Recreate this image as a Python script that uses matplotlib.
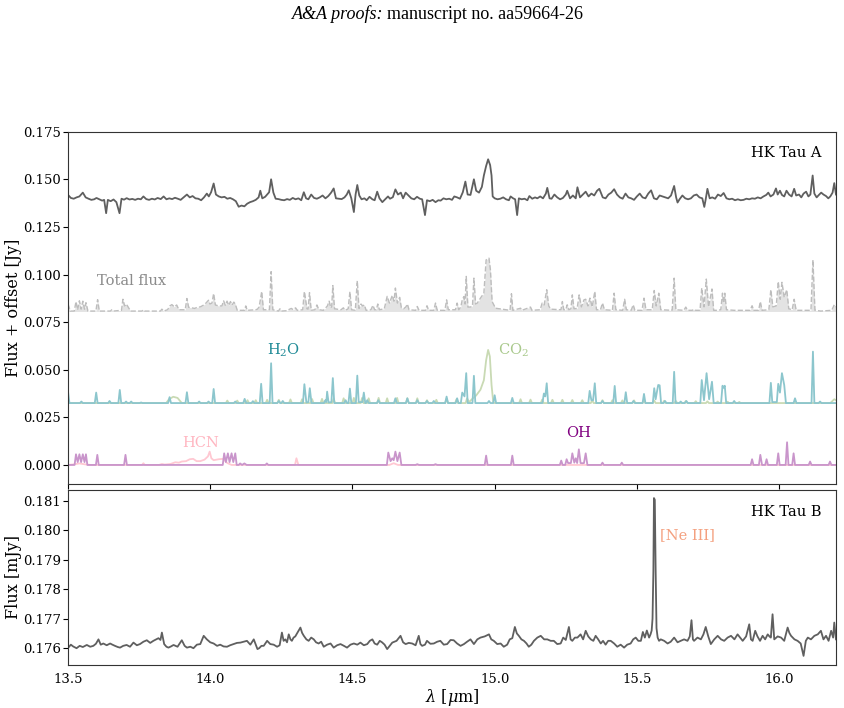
import matplotlib
matplotlib.use("Agg")
import matplotlib.pyplot as plt

# HK Tau A observed spectrum (offset, Jy)
hka_wave = [
    13.500, 13.510, 13.520, 13.530, 13.540, 13.552, 13.562, 13.572, 13.582, 13.592,
    13.600, 13.610, 13.620, 13.627, 13.634, 13.640, 13.650, 13.660, 13.670, 13.681,
    13.688, 13.697, 13.706, 13.716, 13.726, 13.736, 13.746, 13.756, 13.765, 13.775,
    13.785, 13.795, 13.805, 13.815, 13.826, 13.836, 13.846, 13.856, 13.866, 13.876,
    13.886, 13.896, 13.906, 13.918, 13.928, 13.938, 13.948, 13.958, 13.968, 13.978,
    13.988, 13.995, 14.003, 14.012, 14.020, 14.030, 14.040, 14.050, 14.060, 14.070,
    14.080, 14.090, 14.100, 14.110, 14.120, 14.130, 14.140, 14.150, 14.160, 14.170,
    14.176, 14.183, 14.193, 14.200, 14.207, 14.214, 14.222, 14.230, 14.240, 14.250,
    14.260, 14.270, 14.280, 14.290, 14.300, 14.310, 14.320, 14.329, 14.337, 14.345,
    14.355, 14.365, 14.375, 14.385, 14.395, 14.405, 14.415, 14.425, 14.434, 14.442,
    14.452, 14.462, 14.472, 14.480, 14.487, 14.496, 14.505, 14.511, 14.517, 14.524,
    14.532, 14.542, 14.550, 14.560, 14.570, 14.578, 14.587, 14.595, 14.605, 14.615,
    14.625, 14.632, 14.642, 14.651, 14.660, 14.670, 14.678, 14.687, 14.697, 14.707,
    14.717, 14.727, 14.737, 14.745, 14.755, 14.762, 14.772, 14.782, 14.792, 14.802,
    14.810, 14.820, 14.830, 14.840, 14.850, 14.858, 14.868, 14.878, 14.888, 14.897,
    14.905, 14.915, 14.927, 14.935, 14.945, 14.955, 14.962, 14.970, 14.977, 14.984,
    14.989, 14.993, 15.000, 15.010, 15.020, 15.030, 15.040, 15.050, 15.056, 15.065,
    15.072, 15.079, 15.085, 15.095, 15.105, 15.115, 15.122, 15.132, 15.142, 15.150,
    15.160, 15.170, 15.180, 15.185, 15.193, 15.200, 15.210, 15.220, 15.230, 15.240,
    15.250, 15.255, 15.265, 15.275, 15.285, 15.291, 15.300, 15.310, 15.320, 15.330,
    15.340, 15.350, 15.360, 15.368, 15.380, 15.390, 15.400, 15.410, 15.420, 15.430,
    15.440, 15.450, 15.460, 15.470, 15.480, 15.490, 15.500, 15.510, 15.520, 15.530,
    15.540, 15.550, 15.560, 15.570, 15.580, 15.590, 15.600, 15.610, 15.620, 15.631,
    15.638, 15.643, 15.650, 15.660, 15.670, 15.680, 15.690, 15.700, 15.710, 15.720,
    15.730, 15.737, 15.742, 15.748, 15.756, 15.765, 15.775, 15.785, 15.795, 15.805,
    15.815, 15.825, 15.835, 15.845, 15.855, 15.865, 15.875, 15.885, 15.895, 15.905,
    15.915, 15.925, 15.935, 15.945, 15.955, 15.962, 15.970, 15.980, 15.989, 15.995,
    16.003, 16.010, 16.018, 16.026, 16.035, 16.044, 16.053, 16.060, 16.070, 16.078,
    16.086, 16.095, 16.103, 16.110, 16.118, 16.124, 16.132, 16.140, 16.148, 16.156,
    16.165, 16.173, 16.180, 16.188, 16.194, 16.200,
]
hka_flux = [
    0.1418, 0.1402, 0.1398, 0.1405, 0.1410, 0.1430, 0.1405, 0.1398, 0.1392, 0.1395,
    0.1402, 0.1395, 0.1388, 0.1392, 0.1322, 0.1392, 0.1385, 0.1394, 0.1380, 0.1322,
    0.1398, 0.1393, 0.1401, 0.1394, 0.1397, 0.1392, 0.1398, 0.1395, 0.1410, 0.1396,
    0.1392, 0.1398, 0.1394, 0.1402, 0.1396, 0.1410, 0.1395, 0.1400, 0.1396, 0.1403,
    0.1398, 0.1392, 0.1405, 0.1420, 0.1405, 0.1412, 0.1400, 0.1398, 0.1390, 0.1405,
    0.1425, 0.1410, 0.1432, 0.1478, 0.1420, 0.1410, 0.1405, 0.1408, 0.1398, 0.1402,
    0.1395, 0.1385, 0.1356, 0.1362, 0.1358, 0.1372, 0.1380, 0.1385, 0.1392, 0.1405,
    0.1440, 0.1400, 0.1408, 0.1420, 0.1432, 0.1500, 0.1430, 0.1398, 0.1396, 0.1392,
    0.1390, 0.1396, 0.1392, 0.1402, 0.1395, 0.1400, 0.1390, 0.1432, 0.1400, 0.1395,
    0.1420, 0.1402, 0.1398, 0.1405, 0.1415, 0.1400, 0.1412, 0.1430, 0.1452, 0.1400,
    0.1398, 0.1396, 0.1405, 0.1420, 0.1442, 0.1400, 0.1328, 0.1420, 0.1470, 0.1415,
    0.1395, 0.1400, 0.1390, 0.1408, 0.1395, 0.1390, 0.1435, 0.1400, 0.1380, 0.1395,
    0.1410, 0.1398, 0.1406, 0.1447, 0.1420, 0.1430, 0.1400, 0.1430, 0.1415, 0.1400,
    0.1395, 0.1408, 0.1398, 0.1395, 0.1312, 0.1390, 0.1385, 0.1392, 0.1380, 0.1390,
    0.1388, 0.1400, 0.1395, 0.1398, 0.1392, 0.1410, 0.1405, 0.1398, 0.1432, 0.1488,
    0.1420, 0.1418, 0.1500, 0.1440, 0.1430, 0.1460, 0.1520, 0.1570, 0.1605, 0.1575,
    0.1520, 0.1410, 0.1400, 0.1395, 0.1398, 0.1405, 0.1395, 0.1390, 0.1410, 0.1400,
    0.1395, 0.1312, 0.1400, 0.1395, 0.1398, 0.1390, 0.1412, 0.1398, 0.1405, 0.1400,
    0.1410, 0.1400, 0.1425, 0.1455, 0.1400, 0.1398, 0.1420, 0.1405, 0.1395, 0.1402,
    0.1420, 0.1440, 0.1400, 0.1415, 0.1400, 0.1458, 0.1405, 0.1420, 0.1435, 0.1410,
    0.1425, 0.1415, 0.1440, 0.1450, 0.1405, 0.1400, 0.1420, 0.1430, 0.1448, 0.1420,
    0.1405, 0.1398, 0.1425, 0.1405, 0.1400, 0.1392, 0.1410, 0.1425, 0.1405, 0.1400,
    0.1425, 0.1442, 0.1400, 0.1395, 0.1415, 0.1410, 0.1405, 0.1400, 0.1415, 0.1465,
    0.1405, 0.1378, 0.1395, 0.1415, 0.1400, 0.1395, 0.1400, 0.1415, 0.1420, 0.1405,
    0.1400, 0.1355, 0.1395, 0.1450, 0.1400, 0.1405, 0.1398, 0.1420, 0.1412, 0.1428,
    0.1400, 0.1395, 0.1398, 0.1390, 0.1395, 0.1390, 0.1392, 0.1398, 0.1395, 0.1400,
    0.1398, 0.1405, 0.1400, 0.1410, 0.1418, 0.1430, 0.1410, 0.1420, 0.1452, 0.1420,
    0.1440, 0.1418, 0.1410, 0.1440, 0.1420, 0.1410, 0.1450, 0.1415, 0.1420, 0.1405,
    0.1425, 0.1435, 0.1410, 0.1420, 0.1520, 0.1425, 0.1405, 0.1418, 0.1430, 0.1420,
    0.1412, 0.1400, 0.1410, 0.1430, 0.1480, 0.1420,
]

# total model flux (offset)
tot_wave = [
    13.500, 13.508, 13.522, 13.528, 13.534, 13.540, 13.546, 13.552, 13.558, 13.563,
    13.570, 13.598, 13.604, 13.610, 13.649, 13.654, 13.659, 13.688, 13.693, 13.699,
    13.705, 13.713, 13.720, 13.760, 13.765, 13.770, 13.825, 13.830, 13.836, 13.850,
    13.858, 13.865, 13.874, 13.882, 13.890, 13.912, 13.918, 13.924, 13.935, 13.945,
    13.955, 13.965, 13.975, 13.985, 13.994, 13.999, 14.006, 14.012, 14.018, 14.030,
    14.041, 14.047, 14.053, 14.059, 14.065, 14.071, 14.077, 14.083, 14.088, 14.095,
    14.120, 14.125, 14.130, 14.160, 14.166, 14.172, 14.181, 14.187, 14.208, 14.214,
    14.220, 14.240, 14.245, 14.250, 14.270, 14.275, 14.285, 14.292, 14.300, 14.306,
    14.325, 14.331, 14.340, 14.344, 14.349, 14.355, 14.368, 14.375, 14.382, 14.398,
    14.412, 14.418, 14.424, 14.427, 14.431, 14.437, 14.460, 14.468, 14.475, 14.485,
    14.491, 14.497, 14.510, 14.517, 14.523, 14.530, 14.536, 14.542, 14.548, 14.565,
    14.572, 14.578, 14.584, 14.589, 14.595, 14.612, 14.622, 14.630, 14.640, 14.646,
    14.651, 14.658, 14.666, 14.672, 14.680, 14.688, 14.693, 14.699, 14.722, 14.728,
    14.734, 14.757, 14.762, 14.768, 14.786, 14.792, 14.798, 14.825, 14.831, 14.837,
    14.862, 14.868, 14.874, 14.881, 14.886, 14.892, 14.896, 14.900, 14.906, 14.915,
    14.922, 14.927, 14.933, 14.939, 14.950, 14.962, 14.970, 14.980, 14.985, 14.991,
    15.003, 15.054, 15.059, 15.064, 15.091, 15.096, 15.126, 15.131, 15.160, 15.167,
    15.174, 15.183, 15.190, 15.197, 15.233, 15.238, 15.243, 15.250, 15.255, 15.261,
    15.268, 15.273, 15.279, 15.290, 15.297, 15.305, 15.314, 15.320, 15.328, 15.335,
    15.343, 15.352, 15.358, 15.372, 15.379, 15.386, 15.414, 15.420, 15.426, 15.450,
    15.457, 15.463, 15.480, 15.487, 15.493, 15.518, 15.525, 15.532, 15.554, 15.561,
    15.568, 15.577, 15.584, 15.624, 15.631, 15.637, 15.665, 15.672, 15.678, 15.695,
    15.701, 15.707, 15.722, 15.728, 15.736, 15.744, 15.752, 15.764, 15.770, 15.784,
    15.795, 15.801, 15.805, 15.809, 15.815, 15.842, 15.898, 15.905, 15.911, 15.928,
    15.934, 15.940, 15.964, 15.971, 15.978, 15.990, 15.997, 16.004, 16.010, 16.018,
    16.027, 16.034, 16.046, 16.053, 16.060, 16.112, 16.119, 16.126, 16.147, 16.185,
    16.194, 16.200,
]
tot_flux = [
    0.0845, 0.0808, 0.0808, 0.0858, 0.0815, 0.0862, 0.0818, 0.0860, 0.0818, 0.0852,
    0.0808, 0.0808, 0.0868, 0.0808, 0.0808, 0.0815, 0.0808, 0.0812, 0.0870, 0.0835,
    0.0845, 0.0825, 0.0808, 0.0808, 0.0815, 0.0808, 0.0808, 0.0818, 0.0808, 0.0815,
    0.0835, 0.0842, 0.0830, 0.0840, 0.0815, 0.0815, 0.0874, 0.0828, 0.0825, 0.0822,
    0.0828, 0.0830, 0.0838, 0.0850, 0.0865, 0.0845, 0.0850, 0.0900, 0.0840, 0.0835,
    0.0835, 0.0862, 0.0838, 0.0860, 0.0838, 0.0858, 0.0840, 0.0855, 0.0845, 0.0812,
    0.0812, 0.0835, 0.0812, 0.0815, 0.0818, 0.0830, 0.0911, 0.0815, 0.0815, 0.1015,
    0.0815, 0.0808, 0.0820, 0.0808, 0.0810, 0.0815, 0.0822, 0.0815, 0.0825, 0.0812,
    0.0815, 0.0911, 0.0820, 0.0818, 0.0905, 0.0812, 0.0815, 0.0840, 0.0815, 0.0812,
    0.0835, 0.0860, 0.0825, 0.0830, 0.0942, 0.0820, 0.0815, 0.0825, 0.0812, 0.0820,
    0.0910, 0.0815, 0.0812, 0.0967, 0.0822, 0.0845, 0.0835, 0.0840, 0.0812, 0.0815,
    0.0838, 0.0815, 0.0815, 0.0845, 0.0815, 0.0820, 0.0885, 0.0850, 0.0890, 0.0860,
    0.0929, 0.0850, 0.0880, 0.0825, 0.0820, 0.0830, 0.0845, 0.0815, 0.0812, 0.0832,
    0.0812, 0.0812, 0.0836, 0.0812, 0.0812, 0.0850, 0.0812, 0.0812, 0.0867, 0.0815,
    0.0815, 0.0850, 0.0815, 0.0830, 0.0867, 0.0884, 0.0845, 0.0990, 0.0829, 0.0829,
    0.0835, 0.0981, 0.0845, 0.0850, 0.0876, 0.0902, 0.1077, 0.1086, 0.1025, 0.0858,
    0.0823, 0.0812, 0.0899, 0.0812, 0.0823, 0.0812, 0.0829, 0.0812, 0.0815, 0.0850,
    0.0840, 0.0920, 0.0835, 0.0818, 0.0815, 0.0858, 0.0815, 0.0815, 0.0841, 0.0815,
    0.0820, 0.0893, 0.0820, 0.0822, 0.0893, 0.0830, 0.0867, 0.0870, 0.0835, 0.0876,
    0.0830, 0.0911, 0.0815, 0.0815, 0.0850, 0.0815, 0.0812, 0.0902, 0.0815, 0.0812,
    0.0870, 0.0815, 0.0812, 0.0841, 0.0812, 0.0812, 0.0876, 0.0815, 0.0815, 0.0916,
    0.0835, 0.0902, 0.0815, 0.0812, 0.0981, 0.0815, 0.0812, 0.0829, 0.0812, 0.0812,
    0.0818, 0.0812, 0.0812, 0.0929, 0.0830, 0.0976, 0.0830, 0.0924, 0.0812, 0.0812,
    0.0815, 0.0902, 0.0850, 0.0902, 0.0815, 0.0812, 0.0812, 0.0836, 0.0812, 0.0812,
    0.0858, 0.0812, 0.0815, 0.0920, 0.0830, 0.0835, 0.0963, 0.0870, 0.0959, 0.0880,
    0.0920, 0.0820, 0.0815, 0.0870, 0.0812, 0.0812, 0.1077, 0.0812, 0.0808, 0.0812,
    0.0841, 0.0830,
]

# H2O model (offset)
h2o_wave = [
    13.500, 13.505, 13.542, 13.547, 13.552, 13.594, 13.599, 13.604, 13.641, 13.646,
    13.651, 13.677, 13.682, 13.687, 13.699, 13.704, 13.709, 13.717, 13.722, 13.727,
    13.752, 13.757, 13.762, 13.852, 13.857, 13.862, 13.913, 13.918, 13.923, 13.956,
    13.961, 13.966, 13.989, 13.994, 13.999, 14.007, 14.012, 14.017, 14.083, 14.088,
    14.093, 14.116, 14.121, 14.126, 14.145, 14.150, 14.155, 14.174, 14.179, 14.184,
    14.209, 14.214, 14.219, 14.236, 14.241, 14.246, 14.250, 14.255, 14.260, 14.326,
    14.331, 14.338, 14.345, 14.350, 14.356, 14.400, 14.405, 14.408, 14.411, 14.416,
    14.426, 14.431, 14.436, 14.471, 14.476, 14.481, 14.486, 14.491, 14.496, 14.512,
    14.517, 14.522, 14.535, 14.540, 14.545, 14.547, 14.552, 14.557, 14.586, 14.591,
    14.596, 14.646, 14.651, 14.656, 14.688, 14.693, 14.698, 14.723, 14.728, 14.733,
    14.757, 14.762, 14.767, 14.781, 14.786, 14.791, 14.826, 14.831, 14.836, 14.863,
    14.868, 14.873, 14.881, 14.886, 14.890, 14.894, 14.900, 14.905, 14.922, 14.927,
    14.932, 14.975, 14.980, 14.985, 14.995, 15.000, 15.005, 15.057, 15.062, 15.067,
    15.168, 15.173, 15.178, 15.183, 15.188, 15.329, 15.334, 15.340, 15.346, 15.352,
    15.357, 15.374, 15.379, 15.384, 15.417, 15.422, 15.427, 15.456, 15.461, 15.466,
    15.483, 15.488, 15.493, 15.520, 15.525, 15.530, 15.556, 15.561, 15.566, 15.570,
    15.575, 15.580, 15.585, 15.594, 15.599, 15.604, 15.626, 15.631, 15.636, 15.649,
    15.654, 15.659, 15.669, 15.674, 15.679, 15.723, 15.728, 15.736, 15.745, 15.754,
    15.764, 15.770, 15.796, 15.801, 15.805, 15.809, 15.814, 15.837, 15.842, 15.847,
    15.966, 15.971, 15.976, 15.992, 15.997, 16.003, 16.010, 16.018, 16.024, 16.051,
    16.056, 16.061, 16.114, 16.119, 16.124, 16.139, 16.144, 16.149, 16.200,
]
h2o_flux = [
    0.0385, 0.0325, 0.0325, 0.0333, 0.0325, 0.0325, 0.0380, 0.0325, 0.0325, 0.0336,
    0.0325, 0.0325, 0.0394, 0.0325, 0.0325, 0.0333, 0.0325, 0.0325, 0.0333, 0.0325,
    0.0325, 0.0328, 0.0325, 0.0325, 0.0356, 0.0325, 0.0325, 0.0382, 0.0325, 0.0325,
    0.0333, 0.0325, 0.0325, 0.0333, 0.0325, 0.0325, 0.0399, 0.0325, 0.0325, 0.0333,
    0.0325, 0.0325, 0.0347, 0.0325, 0.0325, 0.0335, 0.0325, 0.0325, 0.0426, 0.0325,
    0.0325, 0.0534, 0.0325, 0.0325, 0.0336, 0.0325, 0.0325, 0.0336, 0.0325, 0.0325,
    0.0424, 0.0328, 0.0330, 0.0403, 0.0325, 0.0325, 0.0340, 0.0330, 0.0385, 0.0328,
    0.0330, 0.0456, 0.0325, 0.0325, 0.0340, 0.0325, 0.0325, 0.0401, 0.0325, 0.0325,
    0.0469, 0.0330, 0.0330, 0.0380, 0.0325, 0.0325, 0.0340, 0.0325, 0.0325, 0.0340,
    0.0325, 0.0325, 0.0350, 0.0325, 0.0325, 0.0350, 0.0325, 0.0325, 0.0340, 0.0325,
    0.0325, 0.0336, 0.0325, 0.0325, 0.0336, 0.0325, 0.0325, 0.0359, 0.0325, 0.0325,
    0.0350, 0.0325, 0.0325, 0.0380, 0.0370, 0.0360, 0.0482, 0.0325, 0.0325, 0.0468,
    0.0325, 0.0325, 0.0336, 0.0325, 0.0325, 0.0366, 0.0325, 0.0325, 0.0352, 0.0325,
    0.0325, 0.0375, 0.0360, 0.0429, 0.0325, 0.0325, 0.0389, 0.0340, 0.0340, 0.0429,
    0.0325, 0.0325, 0.0336, 0.0325, 0.0325, 0.0415, 0.0325, 0.0325, 0.0382, 0.0325,
    0.0325, 0.0336, 0.0325, 0.0325, 0.0373, 0.0325, 0.0325, 0.0403, 0.0345, 0.0380,
    0.0420, 0.0418, 0.0325, 0.0325, 0.0336, 0.0325, 0.0325, 0.0489, 0.0325, 0.0325,
    0.0333, 0.0325, 0.0325, 0.0336, 0.0325, 0.0325, 0.0446, 0.0340, 0.0482, 0.0345,
    0.0437, 0.0325, 0.0325, 0.0416, 0.0405, 0.0416, 0.0325, 0.0325, 0.0336, 0.0325,
    0.0325, 0.0431, 0.0330, 0.0330, 0.0426, 0.0380, 0.0482, 0.0420, 0.0325, 0.0325,
    0.0350, 0.0325, 0.0325, 0.0595, 0.0325, 0.0325, 0.0333, 0.0325, 0.0325,
]

# CO2 model (offset)
co2_wave = [
    13.500, 13.845, 13.855, 13.870, 13.885, 13.900, 14.055, 14.060, 14.065, 14.090,
    14.095, 14.100, 14.126, 14.131, 14.136, 14.155, 14.160, 14.165, 14.195, 14.200,
    14.205, 14.236, 14.241, 14.246, 14.277, 14.282, 14.287, 14.318, 14.323, 14.328,
    14.353, 14.358, 14.363, 14.388, 14.393, 14.398, 14.429, 14.434, 14.439, 14.464,
    14.469, 14.474, 14.500, 14.505, 14.510, 14.529, 14.534, 14.539, 14.552, 14.557,
    14.562, 14.587, 14.592, 14.597, 14.617, 14.622, 14.627, 14.652, 14.657, 14.662,
    14.688, 14.693, 14.698, 14.723, 14.728, 14.733, 14.757, 14.762, 14.767, 14.790,
    14.795, 14.800, 14.826, 14.831, 14.836, 14.861, 14.866, 14.871, 14.898, 14.903,
    14.910, 14.920, 14.935, 14.950, 14.962, 14.970, 14.977, 14.983, 14.989, 14.995,
    15.000, 15.086, 15.091, 15.096, 15.121, 15.126, 15.131, 15.162, 15.167, 15.172,
    15.198, 15.203, 15.208, 15.233, 15.238, 15.243, 15.268, 15.273, 15.278, 15.303,
    15.308, 15.313, 15.338, 15.343, 15.348, 15.374, 15.379, 15.384, 15.409, 15.414,
    15.419, 15.444, 15.449, 15.454, 15.485, 15.490, 15.495, 15.520, 15.525, 15.530,
    15.556, 15.561, 15.566, 15.591, 15.596, 15.601, 15.632, 15.637, 15.642, 15.667,
    15.672, 15.677, 15.702, 15.707, 15.712, 15.743, 15.748, 15.753, 15.779, 15.784,
    15.789, 15.814, 15.819, 15.824, 15.855, 15.860, 15.865, 16.180, 16.194, 16.200,
]
co2_flux = [
    0.0325, 0.0325, 0.0345, 0.0358, 0.0352, 0.0325, 0.0325, 0.0338, 0.0325, 0.0325,
    0.0338, 0.0325, 0.0325, 0.0340, 0.0325, 0.0325, 0.0340, 0.0325, 0.0325, 0.0342,
    0.0325, 0.0325, 0.0342, 0.0325, 0.0325, 0.0344, 0.0325, 0.0325, 0.0345, 0.0325,
    0.0325, 0.0346, 0.0325, 0.0325, 0.0347, 0.0325, 0.0325, 0.0348, 0.0325, 0.0325,
    0.0350, 0.0325, 0.0325, 0.0352, 0.0325, 0.0325, 0.0352, 0.0325, 0.0325, 0.0350,
    0.0325, 0.0325, 0.0352, 0.0325, 0.0325, 0.0350, 0.0325, 0.0325, 0.0352, 0.0325,
    0.0325, 0.0350, 0.0325, 0.0325, 0.0350, 0.0325, 0.0325, 0.0340, 0.0325, 0.0325,
    0.0342, 0.0325, 0.0325, 0.0348, 0.0325, 0.0325, 0.0345, 0.0325, 0.0325, 0.0350,
    0.0330, 0.0345, 0.0365, 0.0395, 0.0445, 0.0550, 0.0604, 0.0570, 0.0420, 0.0330,
    0.0325, 0.0325, 0.0345, 0.0325, 0.0325, 0.0343, 0.0325, 0.0325, 0.0343, 0.0325,
    0.0325, 0.0342, 0.0325, 0.0325, 0.0342, 0.0325, 0.0325, 0.0341, 0.0325, 0.0325,
    0.0340, 0.0325, 0.0325, 0.0340, 0.0325, 0.0325, 0.0340, 0.0325, 0.0325, 0.0340,
    0.0325, 0.0325, 0.0339, 0.0325, 0.0325, 0.0339, 0.0325, 0.0325, 0.0338, 0.0325,
    0.0325, 0.0338, 0.0325, 0.0325, 0.0337, 0.0325, 0.0325, 0.0336, 0.0325, 0.0325,
    0.0336, 0.0325, 0.0325, 0.0335, 0.0325, 0.0325, 0.0334, 0.0325, 0.0325, 0.0333,
    0.0325, 0.0325, 0.0332, 0.0325, 0.0325, 0.0331, 0.0325, 0.0325, 0.0345, 0.0340,
]

# OH model
oh_wave = [
    13.500, 13.523, 13.528, 13.534, 13.540, 13.546, 13.552, 13.558, 13.563, 13.568,
    13.598, 13.603, 13.608, 13.697, 13.702, 13.707, 14.044, 14.049, 14.055, 14.062,
    14.068, 14.075, 14.081, 14.088, 14.093, 14.100, 14.105, 14.112, 14.120, 14.128,
    14.194, 14.199, 14.204, 14.621, 14.626, 14.634, 14.640, 14.645, 14.651, 14.658,
    14.666, 14.672, 14.722, 14.728, 14.734, 14.786, 14.792, 14.798, 14.965, 14.970,
    14.975, 15.057, 15.062, 15.067, 15.229, 15.234, 15.239, 15.248, 15.253, 15.258,
    15.268, 15.273, 15.280, 15.285, 15.290, 15.296, 15.302, 15.308, 15.314, 15.320,
    15.326, 15.374, 15.379, 15.384, 15.442, 15.447, 15.452, 15.900, 15.905, 15.910,
    15.929, 15.934, 15.940, 15.951, 15.956, 15.961, 15.992, 15.997, 16.002, 16.023,
    16.028, 16.033, 16.046, 16.051, 16.056, 16.104, 16.109, 16.114, 16.174, 16.179,
    16.184, 16.200,
]
oh_flux = [
    0.0000, 0.0000, 0.0056, 0.0015, 0.0056, 0.0015, 0.0056, 0.0015, 0.0056, 0.0000,
    0.0000, 0.0053, 0.0000, 0.0000, 0.0053, 0.0000, 0.0000, 0.0061, 0.0015, 0.0061,
    0.0015, 0.0061, 0.0015, 0.0061, 0.0000, 0.0000, 0.0008, 0.0000, 0.0008, 0.0000,
    0.0000, 0.0008, 0.0000, 0.0000, 0.0065, 0.0020, 0.0035, 0.0025, 0.0070, 0.0020,
    0.0065, 0.0000, 0.0000, 0.0004, 0.0000, 0.0000, 0.0004, 0.0000, 0.0000, 0.0049,
    0.0000, 0.0000, 0.0049, 0.0000, 0.0000, 0.0023, 0.0000, 0.0000, 0.0030, 0.0010,
    0.0010, 0.0061, 0.0012, 0.0035, 0.0010, 0.0082, 0.0010, 0.0009, 0.0010, 0.0061,
    0.0000, 0.0000, 0.0012, 0.0000, 0.0000, 0.0012, 0.0000, 0.0000, 0.0030, 0.0000,
    0.0000, 0.0053, 0.0000, 0.0000, 0.0030, 0.0000, 0.0000, 0.0061, 0.0000, 0.0000,
    0.0119, 0.0000, 0.0000, 0.0061, 0.0000, 0.0000, 0.0018, 0.0000, 0.0000, 0.0018,
    0.0000, 0.0000,
]

# HCN model
hcn_wave = [
    13.500, 13.520, 13.540, 13.560, 13.580, 13.760, 13.765, 13.770, 13.820, 13.830,
    13.840, 13.860, 13.877, 13.890, 13.900, 13.915, 13.928, 13.940, 13.952, 13.965,
    13.980, 13.992, 13.998, 14.004, 14.012, 14.030, 14.045, 14.060, 14.075, 14.298,
    14.303, 14.310, 14.630, 14.645, 14.660, 16.200,
]
hcn_flux = [
    0.0000, 0.0003, 0.0008, 0.0003, 0.0000, 0.0000, 0.0009, 0.0000, 0.0000, 0.0005,
    0.0002, 0.0005, 0.0014, 0.0012, 0.0018, 0.0020, 0.0030, 0.0032, 0.0020, 0.0020,
    0.0028, 0.0045, 0.0070, 0.0035, 0.0025, 0.0030, 0.0032, 0.0010, 0.0000, 0.0000,
    0.0035, 0.0000, 0.0000, 0.0009, 0.0000, 0.0000,
]

# HK Tau B observed spectrum (mJy)
hkb_wave = [
    13.501, 13.510, 13.518, 13.530, 13.541, 13.552, 13.566, 13.578, 13.589, 13.598,
    13.607, 13.615, 13.624, 13.636, 13.648, 13.656, 13.665, 13.675, 13.683, 13.694,
    13.706, 13.718, 13.730, 13.742, 13.753, 13.765, 13.777, 13.789, 13.800, 13.810,
    13.818, 13.825, 13.830, 13.838, 13.846, 13.853, 13.862, 13.871, 13.885, 13.900,
    13.910, 13.918, 13.930, 13.941, 13.953, 13.965, 13.977, 13.988, 14.000, 14.012,
    14.024, 14.035, 14.047, 14.059, 14.070, 14.082, 14.094, 14.106, 14.118, 14.129,
    14.141, 14.153, 14.160, 14.166, 14.172, 14.180, 14.188, 14.200, 14.211, 14.223,
    14.235, 14.244, 14.252, 14.258, 14.264, 14.270, 14.276, 14.282, 14.287, 14.293,
    14.299, 14.308, 14.317, 14.323, 14.329, 14.338, 14.346, 14.355, 14.364, 14.372,
    14.381, 14.390, 14.399, 14.411, 14.423, 14.434, 14.446, 14.458, 14.470, 14.481,
    14.493, 14.505, 14.517, 14.528, 14.540, 14.552, 14.561, 14.570, 14.578, 14.587,
    14.596, 14.604, 14.613, 14.622, 14.631, 14.640, 14.655, 14.669, 14.678, 14.687,
    14.698, 14.710, 14.722, 14.733, 14.739, 14.745, 14.755, 14.762, 14.774, 14.786,
    14.798, 14.809, 14.821, 14.833, 14.845, 14.856, 14.868, 14.880, 14.892, 14.903,
    14.915, 14.927, 14.939, 14.950, 14.965, 14.980, 14.988, 14.997, 15.009, 15.021,
    15.032, 15.044, 15.053, 15.062, 15.071, 15.078, 15.085, 15.094, 15.103, 15.112,
    15.120, 15.129, 15.138, 15.150, 15.162, 15.174, 15.185, 15.197, 15.208, 15.220,
    15.232, 15.241, 15.250, 15.261, 15.267, 15.273, 15.282, 15.291, 15.302, 15.311,
    15.320, 15.329, 15.338, 15.347, 15.355, 15.364, 15.373, 15.381, 15.390, 15.399,
    15.408, 15.420, 15.431, 15.443, 15.455, 15.466, 15.478, 15.487, 15.496, 15.505,
    15.514, 15.521, 15.528, 15.535, 15.543, 15.548, 15.552, 15.555, 15.558, 15.560,
    15.563, 15.566, 15.569, 15.573, 15.578, 15.584, 15.596, 15.608, 15.619, 15.631,
    15.643, 15.654, 15.666, 15.678, 15.686, 15.692, 15.697, 15.701, 15.713, 15.725,
    15.734, 15.742, 15.751, 15.760, 15.772, 15.784, 15.796, 15.807, 15.819, 15.831,
    15.843, 15.854, 15.863, 15.872, 15.884, 15.895, 15.901, 15.907, 15.916, 15.924,
    15.933, 15.942, 15.951, 15.960, 15.966, 15.971, 15.977, 15.983, 15.995, 16.007,
    16.018, 16.030, 16.036, 16.042, 16.054, 16.065, 16.076, 16.086, 16.094, 16.101,
    16.112, 16.124, 16.136, 16.147, 16.156, 16.165, 16.174, 16.183, 16.190, 16.194,
    16.200,
]
hkb_flux = [
    0.17602, 0.17612, 0.17606, 0.17600, 0.17608, 0.17604, 0.17611, 0.17605, 0.17608, 0.17615,
    0.17630, 0.17612, 0.17616, 0.17610, 0.17616, 0.17612, 0.17608, 0.17604, 0.17602, 0.17608,
    0.17611, 0.17605, 0.17619, 0.17610, 0.17614, 0.17622, 0.17627, 0.17618, 0.17625, 0.17630,
    0.17634, 0.17628, 0.17653, 0.17614, 0.17605, 0.17602, 0.17606, 0.17611, 0.17605, 0.17627,
    0.17608, 0.17602, 0.17605, 0.17600, 0.17612, 0.17614, 0.17642, 0.17630, 0.17620, 0.17616,
    0.17608, 0.17612, 0.17606, 0.17605, 0.17610, 0.17614, 0.17618, 0.17619, 0.17622, 0.17625,
    0.17612, 0.17630, 0.17612, 0.17597, 0.17600, 0.17608, 0.17608, 0.17625, 0.17614, 0.17612,
    0.17605, 0.17610, 0.17653, 0.17625, 0.17630, 0.17620, 0.17647, 0.17630, 0.17625, 0.17636,
    0.17640, 0.17655, 0.17670, 0.17652, 0.17642, 0.17630, 0.17625, 0.17636, 0.17630, 0.17620,
    0.17616, 0.17622, 0.17605, 0.17612, 0.17616, 0.17602, 0.17610, 0.17614, 0.17608, 0.17602,
    0.17612, 0.17616, 0.17612, 0.17619, 0.17610, 0.17614, 0.17625, 0.17630, 0.17616, 0.17612,
    0.17625, 0.17620, 0.17612, 0.17597, 0.17608, 0.17619, 0.17625, 0.17642, 0.17620, 0.17614,
    0.17618, 0.17616, 0.17610, 0.17642, 0.17614, 0.17608, 0.17612, 0.17625, 0.17615, 0.17616,
    0.17622, 0.17625, 0.17612, 0.17614, 0.17628, 0.17627, 0.17616, 0.17608, 0.17614, 0.17622,
    0.17630, 0.17614, 0.17630, 0.17636, 0.17640, 0.17647, 0.17630, 0.17625, 0.17614, 0.17616,
    0.17605, 0.17612, 0.17630, 0.17634, 0.17672, 0.17650, 0.17642, 0.17630, 0.17625, 0.17616,
    0.17605, 0.17612, 0.17625, 0.17636, 0.17642, 0.17630, 0.17630, 0.17625, 0.17625, 0.17614,
    0.17616, 0.17636, 0.17628, 0.17672, 0.17630, 0.17625, 0.17636, 0.17636, 0.17647, 0.17630,
    0.17659, 0.17640, 0.17630, 0.17625, 0.17642, 0.17630, 0.17616, 0.17625, 0.17612, 0.17625,
    0.17625, 0.17616, 0.17605, 0.17612, 0.17602, 0.17612, 0.17616, 0.17630, 0.17636, 0.17625,
    0.17625, 0.17655, 0.17636, 0.17660, 0.17636, 0.17647, 0.17660, 0.17700, 0.17861, 0.18109,
    0.18103, 0.17861, 0.17668, 0.17636, 0.17625, 0.17630, 0.17625, 0.17616, 0.17622, 0.17636,
    0.17620, 0.17625, 0.17630, 0.17625, 0.17640, 0.17695, 0.17630, 0.17625, 0.17636, 0.17630,
    0.17647, 0.17672, 0.17640, 0.17614, 0.17630, 0.17642, 0.17630, 0.17625, 0.17636, 0.17642,
    0.17630, 0.17647, 0.17636, 0.17625, 0.17640, 0.17681, 0.17630, 0.17625, 0.17659, 0.17640,
    0.17625, 0.17642, 0.17630, 0.17647, 0.17640, 0.17636, 0.17715, 0.17630, 0.17640, 0.17636,
    0.17625, 0.17670, 0.17652, 0.17642, 0.17630, 0.17625, 0.17616, 0.17574, 0.17625, 0.17636,
    0.17630, 0.17642, 0.17647, 0.17659, 0.17630, 0.17642, 0.17625, 0.17659, 0.17636, 0.17687,
    0.17630,
]

plt.rcParams["font.family"] = "DejaVu Serif"
plt.rcParams["mathtext.fontset"] = "dejavuserif"

fig = plt.figure(figsize=(8.44, 7.08), dpi=100)
ax1 = fig.add_axes([0.0806, 0.3164, 0.9099, 0.4976])
ax2 = fig.add_axes([0.0806, 0.0607, 0.9099, 0.2479])

# top panel: HK Tau A + slab models
ax1.plot(hka_wave, hka_flux, color="#5f5f5f", lw=1.3)
ax1.fill_between(tot_wave, 0.0806, tot_flux, color="#e3e3e3", lw=0)
ax1.plot(tot_wave, tot_flux, color="#bdbdbd", lw=1.0, ls="--")
ax1.plot(co2_wave, co2_flux, color="#c9dab4", lw=1.3)
ax1.plot(h2o_wave, h2o_flux, color="#8cc6cd", lw=1.3)
ax1.plot(hcn_wave, hcn_flux, color="#ffc8d2", lw=1.3)
ax1.plot(oh_wave, oh_flux, color="#c995cb", lw=1.3)

ax1.text(13.602, 0.0967, "Total flux", color="#8c8c8c", fontsize=10.5, va="center")
ax1.text(14.257, 0.0604, r"H$_2$O", color="#1f8a96", fontsize=10.5, ha="center", va="center")
ax1.text(15.067, 0.0604, r"CO$_2$", color="#a9c98c", fontsize=10.5, ha="center", va="center")
ax1.text(13.965, 0.0116, "HCN", color="#ffb6c1", fontsize=10.5, ha="center", va="center")
ax1.text(15.296, 0.0168, "OH", color="#800080", fontsize=10.5, ha="center", va="center")
ax1.text(16.025, 0.1640, "HK Tau A", color="black", fontsize=10.5, ha="center", va="center")

ax1.set_xlim(13.5, 16.2)
ax1.set_ylim(-0.01, 0.175)
ax1.set_yticks([0.0, 0.025, 0.05, 0.075, 0.1, 0.125, 0.15, 0.175])
ax1.set_xticks([13.5, 14.0, 14.5, 15.0, 15.5, 16.0])
ax1.tick_params(axis="x", labelbottom=False)
ax1.set_ylabel("Flux + offset [Jy]", fontsize=11.5)

# bottom panel: HK Tau B
ax2.plot(hkb_wave, hkb_flux, color="#5f5f5f", lw=1.3)
ax2.text(15.58, 0.17982, "[Ne III]", color="#f4a07f", fontsize=10.5, va="center")
ax2.text(16.025, 0.18063, "HK Tau B", color="black", fontsize=10.5, ha="center", va="center")
ax2.set_xlim(13.5, 16.2)
ax2.set_ylim(0.17543, 0.18138)
ax2.set_yticks([0.176, 0.177, 0.178, 0.179, 0.18, 0.181])
ax2.set_xticks([13.5, 14.0, 14.5, 15.0, 15.5, 16.0])
ax2.tick_params(axis="x", length=0, pad=6)
ax2.set_xlabel(r"$\lambda$ [$\mu$m]", fontsize=11.5)
ax2.xaxis.set_label_coords(0.5, -0.125)
ax2.set_ylabel("Flux [mJy]", fontsize=11.5)

for ax in (ax1, ax2):
    ax.tick_params(labelsize=9.5)
    ax.tick_params(axis="y", pad=1.5)
    ax.yaxis.set_label_coords(-0.060, 0.5)
    for sp in ax.spines.values():
        sp.set_color("#333333")

# page header
t1 = fig.text(0.346, 0.980, "A&A proofs:", fontsize=13, family="Liberation Serif",
              style="italic", va="center")
fig.canvas.draw()
bb = t1.get_window_extent()
x_next = (bb.x1 + 3) / fig.bbox.width
fig.text(x_next, 0.980, "manuscript no. aa59664-26", fontsize=13,
         family="Liberation Serif", va="center")

fig.savefig("out.png", dpi=100)
